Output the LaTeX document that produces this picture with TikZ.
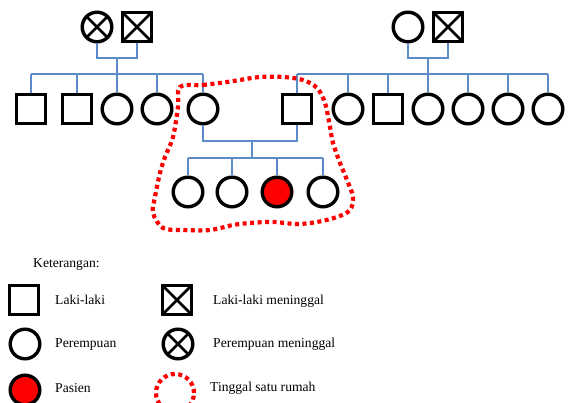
\documentclass[tikz,border=0pt]{standalone}
\usepackage{fontspec}
\setmainfont{Liberation Serif}
\begin{document}
\begin{tikzpicture}[x=1pt,y=-1pt,
  male/.style={draw, line width=3.4pt, rectangle, minimum size=28.6pt, inner sep=0pt, fill=white},
  female/.style={draw, line width=3.4pt, circle, minimum size=29.6pt, inner sep=0pt, fill=white},
  dead/.style={path picture={\draw[line width=2.6pt] (path picture bounding box.north west) -- (path picture bounding box.south east) (path picture bounding box.north east) -- (path picture bounding box.south west);}},
  patient/.style={female, fill=red},
  link/.style={color={rgb,255:red,91;green,139;blue,200}, line width=1.2pt},
  house/.style={draw=red, line width=4.2pt, dash pattern=on 4pt off 3.5pt},
  lbl/.style={anchor=west, font=\fontsize{13.6}{15}\selectfont, inner sep=0pt}]
\clip (0,0) rectangle (568,403);
\fill[white] (0,0) rectangle (568,403);

% generation I
\node[female, dead] (gm1) at (97,27) {};
\node[male, dead] (gf1) at (137,27) {};
\node[female] (gm2) at (408,27) {};
\node[male, dead] (gf2) at (448,27) {};

% generation II left
\node[male] (a1) at (31,109) {};
\node[male] (a2) at (77,109) {};
\node[female] (a3) at (117,109) {};
\node[female] (a4) at (157,109) {};
\node[female] (a5) at (203,109) {};
% generation II right
\node[male] (b1) at (297,109) {};
\node[female] (b2) at (348,109) {};
\node[male] (b3) at (388,109) {};
\node[female] (b4) at (428,109) {};
\node[female] (b5) at (468,109) {};
\node[female] (b6) at (508,109) {};
\node[female] (b7) at (548,109) {};
% generation III
\node[female] (c1) at (188,192) {};
\node[female] (c2) at (232,192) {};
\node[patient] (c3) at (277,192) {};
\node[female] (c4) at (323,192) {};

\coordinate (m1) at (117,58);
\coordinate (s1) at (117,74);
\coordinate (m2) at (428,58);
\coordinate (s2) at (428,74);
\coordinate (m3) at (252,141);
\coordinate (s3) at (252,158);

\draw[link] (gm1.south) |- (m1) -| (gf1.south);
\draw[link] (m1) -- (s1);
\draw[link] (a1.north |- s1) -- (a5.north |- s1);
\foreach \n in {a1,a2,a3,a4,a5} \draw[link] (\n.north) -- (\n.north |- s1);

\draw[link] (gm2.south) |- (m2) -| (gf2.south);
\draw[link] (m2) -- (s2);
\draw[link] (b1.north |- s2) -- (b7.north |- s2);
\foreach \n in {b1,b2,b3,b4,b5,b6,b7} \draw[link] (\n.north) -- (\n.north |- s2);

\draw[link] (a5.south) |- (m3) -| (b1.south);
\draw[link] (m3) -- (s3);
\draw[link] (c1.north |- s3) -- (c4.north |- s3);
\foreach \n in {c1,c2,c3,c4} \draw[link] (\n.north) -- (\n.north |- s3);

% household boundary
\draw[house] plot[smooth cycle, tension=0.55] coordinates {
 (180,87) (203,85) (227,82) (240,80) (260,77) (283,77) (303,80) (317,88) (325,103)
 (330,127) (333,143) (340,163) (347,180) (353,197) (350,210) (337,217) (317,222)
 (297,224) (273,222) (250,223) (233,225) (210,230) (183,230) (163,228) (153,213)
 (155,197) (160,173) (165,157) (173,137) (178,107)};

% legend
\node[lbl] (ket) at (33,265) {Keterangan:};
\node[male] (l1) at (24,300) {};
\node[lbl] (t1) at (55,300) {Laki-laki};
\node[female] (l2) at (25,344) {};
\node[lbl] (t2) at (55,344) {Perempuan};
\node[patient] (l3) at (25,390) {};
\node[lbl] (t3) at (55,388) {Pasien};
\node[male, dead] (l4) at (177,300) {};
\node[lbl] (t4) at (213,301) {Laki-laki meninggal};
\node[female, dead] (l5) at (178,344) {};
\node[lbl] (t5) at (213,344) {Perempuan meninggal};
\node[circle, minimum size=38pt, inner sep=0pt, house] (l6) at (175,393) {};
\node[lbl] (t6) at (210,388) {Tinggal satu rumah};
\end{tikzpicture}
\end{document}
